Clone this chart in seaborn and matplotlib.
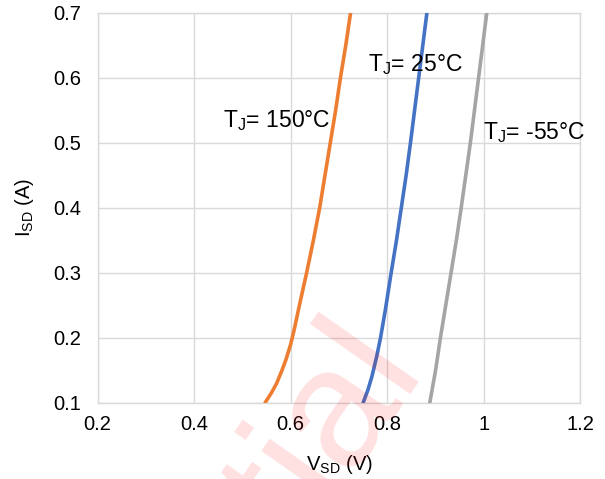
import matplotlib
matplotlib.use("Agg")
import matplotlib.pyplot as plt
import seaborn as sns
import pandas as pd

# I_SD (A) vs V_SD (V)
isd_150 = [0.10, 0.115, 0.13, 0.15, 0.166, 0.19, 0.215, 0.243, 0.27, 0.30,
           0.35, 0.40, 0.45, 0.50, 0.55, 0.60, 0.65, 0.70]
vsd_150 = [0.547, 0.560, 0.571, 0.582, 0.590, 0.600, 0.608, 0.616, 0.624, 0.633,
           0.647, 0.660, 0.671, 0.682, 0.693, 0.703, 0.714, 0.724]

isd_25 = [0.10, 0.12, 0.14, 0.171, 0.20, 0.243, 0.30, 0.35, 0.40, 0.45, 0.50, 0.60, 0.70]
vsd_25 = [0.750, 0.760, 0.768, 0.778, 0.786, 0.796, 0.808, 0.819, 0.829, 0.839, 0.848, 0.865, 0.882]

isd_m55 = [0.10, 0.125, 0.15, 0.20, 0.25, 0.30, 0.35, 0.40, 0.50, 0.60, 0.70]
vsd_m55 = [0.888, 0.894, 0.900, 0.910, 0.921, 0.932, 0.943, 0.953, 0.972, 0.989, 1.006]

series_names = ["150", "25", "-55"]
series_colors = ["#ED7D31", "#4472C4", "#A5A5A5"]

x_ticks = [0.2, 0.4, 0.6, 0.8, 1.0, 1.2]
x_tick_labels = ["0.2", "0.4", "0.6", "0.8", "1", "1.2"]
y_ticks = [0.1, 0.2, 0.3, 0.4, 0.5, 0.6, 0.7]
y_tick_labels = ["0.1", "0.2", "0.3", "0.4", "0.5", "0.6", "0.7"]

labels = [r"$\mathrm{T_J}$= 150°C", r"$\mathrm{T_J}$= 25°C", r"$\mathrm{T_J}$= -55°C"]
label_pos = [(0.4605, 0.5246), (0.7607, 0.6108), (0.9988, 0.505)]


def setup_style():
    sns.set_theme(style="whitegrid")
    plt.rcParams['font.family'] = ['Liberation Sans', 'DejaVu Sans']
    plt.rcParams['mathtext.fontset'] = 'custom'
    plt.rcParams['mathtext.rm'] = 'Liberation Sans'
    plt.rcParams['mathtext.it'] = 'Liberation Sans:italic'
    plt.rcParams['mathtext.bf'] = 'Liberation Sans:bold'


def main():
    setup_style()
    frames = []
    for name, isd, vsd in zip(series_names,
                              [isd_150, isd_25, isd_m55],
                              [vsd_150, vsd_25, vsd_m55]):
        frames.append(pd.DataFrame({'vsd': vsd, 'isd': isd, 'tj': name}))
    df = pd.concat(frames, ignore_index=True)

    fig = plt.figure(figsize=(6.05, 4.79), dpi=100)
    ax = fig.add_axes([0.1612, 0.1593, 0.7983, 0.8142])

    sns.lineplot(data=df, x='vsd', y='isd', hue='tj', hue_order=series_names,
                 palette=series_colors, sort=False, estimator=None,
                 linewidth=2.6, legend=False, ax=ax, zorder=3)
    for line in ax.get_lines():
        line.set_solid_joinstyle('round')

    ax.set_xlim(0.2, 1.2)
    ax.set_ylim(0.1, 0.7)
    ax.set_xticks(x_ticks)
    ax.set_xticklabels(x_tick_labels)
    ax.set_yticks(y_ticks)
    ax.set_yticklabels(y_tick_labels)
    ax.tick_params(axis='both', length=0, labelsize=14.5, colors='black')
    ax.tick_params(axis='x', pad=9)
    ax.tick_params(axis='y', pad=12)
    ax.grid(True, color='#D9D9D9', linewidth=1.0)
    for sp in ax.spines.values():
        sp.set_visible(True)
        sp.set_color('#D9D9D9')
        sp.set_linewidth(1.0)

    ax.set_xlabel(r"$\mathrm{V_{SD}}$ (V)", fontsize=14.5, color='black')
    ax.set_ylabel(r"$\mathrm{I_{SD}}$ (A)", fontsize=14.5, color='black')
    ax.xaxis.set_label_coords(0.5, -0.13)
    ax.yaxis.set_label_coords(-0.127, 0.5)

    for txt, (x, y) in zip(labels, label_pos):
        ax.text(x, y, txt, fontsize=16.5, ha='left', va='baseline', color='black', zorder=4)

    # watermark
    fig.text(0.6975, 0.238, "Confidential", rotation=55, rotation_mode='anchor',
             ha='right', va='baseline', fontsize=122, color='red', alpha=0.12,
             family='Liberation Sans', zorder=0.5)

    fig.savefig('out.png', dpi=100)
    plt.close(fig)


if __name__ == '__main__':
    main()
